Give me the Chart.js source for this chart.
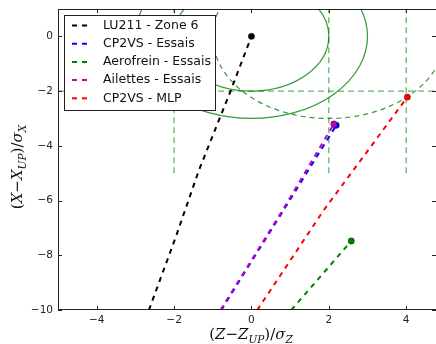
<!DOCTYPE html>
<html>
<head>
<meta charset="utf-8">
<script src="https://cdn.jsdelivr.net/npm/chart.js@4"></script>
<style>
  html, body { margin: 0; padding: 0; background: #fff; }
  #wrap { width: 436px; height: 344px; position: relative; }
</style>
</head>
<body>
<div id="wrap"><canvas id="grafico" width="436" height="344"></canvas></div>
<script>
// series
const nomes = ['LU211 - Zone 6', 'CP2VS - Essais', 'Aerofrein - Essais', 'Ailettes - Essais', 'CP2VS - MLP'];
const cores = ['#000000', '#0000ff', '#008000', '#bf00bf', '#ff0000'];

const lu211X = [-2.65, -1.96, -1.36, -0.54, 0];
const lu211Y = [-10, -7.35, -4.9, -2, 0];
const cp2vsEssaisX = [-0.78, 0.82, 2.19];
const cp2vsEssaisY = [-10, -6.37, -3.25];
const aerofreinX = [1.03, 2.58];
const aerofreinY = [-10, -7.48];
const ailettesX = [-0.8, 0.8, 2.13];
const ailettesY = [-10, -6.37, -3.2];
const mlpX = [0.15, 1.86, 4.03];
const mlpY = [-10, -6.37, -2.22];

// reference limits
const limitesX = [-2, 2, 4];
const limitesYVert = [-5, 1.2];
const limiteH = -2;
const circCentro = [0, 0];
const circRaios = [2, 3];
const circTracCentro = [2, 0];
const circTracRaio = 3;

// axes
const xTicks = [-4, -2, 0, 2, 4];
const yTicks = [0, -2, -4, -6, -8, -10];
const xMin = -5, xMax = 4.77, yMin = -10, yMax = 1;

const seriesX = [lu211X, cp2vsEssaisX, aerofreinX, ailettesX, mlpX];
const seriesY = [lu211Y, cp2vsEssaisY, aerofreinY, ailettesY, mlpY];

function pontos(xs, ys) {
  return xs.map((x, i) => ({ x: x, y: ys[i] }));
}

const datasets = [];
// green reference lines
limitesX.forEach(x => {
  datasets.push({
    data: pontos([x, x], limitesYVert),
    showLine: true, borderColor: 'rgba(0,128,0,0.6)', borderWidth: 1.3,
    borderDash: [6, 4], pointRadius: 0, order: 20
  });
});
datasets.push({
  data: pontos([xMin, xMax], [limiteH, limiteH]),
  showLine: true, borderColor: 'rgba(0,128,0,0.6)', borderWidth: 1.3,
  borderDash: [6, 4], pointRadius: 0, order: 20
});
// main series, drawn in matplotlib order (last on top)
nomes.forEach((nome, i) => {
  const n = seriesX[i].length;
  datasets.push({
    label: nome,
    data: pontos(seriesX[i], seriesY[i]),
    showLine: true,
    borderColor: cores[i],
    backgroundColor: cores[i],
    borderWidth: 2,
    borderDash: [5, 5],
    pointRadius: ctx => ctx.dataIndex === n - 1 ? 3.2 : 0,
    pointBorderColor: 'rgba(0,0,0,0.5)',
    pointBorderWidth: 0.6,
    pointBackgroundColor: cores[i],
    order: 10 - i
  });
});

function menos(v) {
  return v < 0 ? '\u2212' + Math.abs(v) : String(v);
}

// draws circles, frame, inward ticks, legend and axis titles
const extras = {
  id: 'extras',
  beforeDatasetsDraw(chart) {
    const { ctx, chartArea: a, scales: { x, y } } = chart;
    ctx.save();
    ctx.beginPath();
    ctx.rect(a.left, a.top, a.right - a.left, a.bottom - a.top);
    ctx.clip();
    ctx.strokeStyle = 'rgba(0,128,0,0.8)';
    ctx.lineWidth = 1.2;
    const cx = x.getPixelForValue(circCentro[0]);
    const cy = y.getPixelForValue(circCentro[1]);
    circRaios.forEach(r => {
      const rx = x.getPixelForValue(circCentro[0] + r) - cx;
      const ry = y.getPixelForValue(circCentro[1] - r) - cy;
      ctx.beginPath();
      ctx.ellipse(cx, cy, rx, ry, 0, 0, Math.PI * 2);
      ctx.stroke();
    });
    const tx = x.getPixelForValue(circTracCentro[0]);
    const ty = y.getPixelForValue(circTracCentro[1]);
    const trx = x.getPixelForValue(circTracCentro[0] + circTracRaio) - tx;
    const try_ = y.getPixelForValue(circTracCentro[1] - circTracRaio) - ty;
    ctx.setLineDash([5, 4]);
    ctx.beginPath();
    ctx.ellipse(tx, ty, trx, try_, 0, 0, Math.PI * 2);
    ctx.stroke();
    ctx.restore();
  },
  afterDraw(chart) {
    const { ctx, chartArea: a, scales: { x, y } } = chart;
    ctx.save();
    // frame
    ctx.strokeStyle = '#222';
    ctx.lineWidth = 1;
    ctx.strokeRect(a.left + 0.5, a.top + 0.5, a.right - a.left, a.bottom - a.top - 1);
    // inward ticks on all sides
    ctx.beginPath();
    xTicks.forEach(v => {
      const px = Math.round(x.getPixelForValue(v)) + 0.5;
      ctx.moveTo(px, a.bottom); ctx.lineTo(px, a.bottom - 4);
      ctx.moveTo(px, a.top); ctx.lineTo(px, a.top + 4);
    });
    yTicks.forEach(v => {
      const py = Math.round(y.getPixelForValue(v)) + 0.5;
      ctx.moveTo(a.left, py); ctx.lineTo(a.left + 4, py);
      ctx.moveTo(a.right, py); ctx.lineTo(a.right - 4, py);
    });
    ctx.stroke();

    // legend
    const lx = 64.5, ly = 15.5, lw = 151, lh = 95;
    ctx.fillStyle = '#fff';
    ctx.fillRect(lx, ly, lw, lh);
    ctx.strokeStyle = '#222';
    ctx.strokeRect(lx, ly, lw, lh);
    ctx.font = '12.5px "DejaVu Sans"';
    ctx.textBaseline = 'middle';
    ctx.textAlign = 'left';
    nomes.forEach((nome, i) => {
      const yy = 25.5 + i * 18.2;
      ctx.strokeStyle = cores[i];
      ctx.lineWidth = 2;
      ctx.setLineDash([5, 5]);
      ctx.beginPath();
      ctx.moveTo(72, yy); ctx.lineTo(88, yy);
      ctx.stroke();
      ctx.setLineDash([]);
      ctx.fillStyle = '#111';
      ctx.fillText(nome, 103, yy);
    });

    // axis titles (math style)
    desenhaTitulo(ctx, [['(', 0], ['Z', 0], ['\u2212', 0], ['Z', 0], ['UP', 1], [')/', 0], ['\u03c3', 0], ['Z', 1]],
      251, 339, 0);
    desenhaTitulo(ctx, [['(', 0], ['X', 0], ['\u2212', 0], ['X', 0], ['UP', 1], [')/', 0], ['\u03c3', 0], ['X', 1]],
      22, 167, -Math.PI / 2);
    ctx.restore();
  }
};

function desenhaTitulo(ctx, partes, cx, cy, ang) {
  const fonteN = 'italic 15px "DejaVu Serif"';
  const fonteS = 'italic 10.5px "DejaVu Serif"';
  const fonteR = '15px "DejaVu Serif"';
  const estilo = p => p[1] ? fonteS : (/[()\/\u2212]/.test(p[0]) ? fonteR : fonteN);
  let total = 0;
  partes.forEach(p => { ctx.font = estilo(p); total += ctx.measureText(p[0]).width; });
  ctx.save();
  ctx.translate(cx, cy);
  ctx.rotate(ang);
  ctx.fillStyle = '#111';
  ctx.textBaseline = 'alphabetic';
  ctx.textAlign = 'left';
  let px = -total / 2;
  partes.forEach(p => {
    ctx.font = estilo(p);
    ctx.fillText(p[0], px, p[1] ? 4 : 0);
    px += ctx.measureText(p[0]).width;
  });
  ctx.restore();
}

new Chart(document.getElementById('grafico'), {
  type: 'scatter',
  data: { datasets: datasets },
  options: {
    responsive: false,
    animation: false,
    layout: { autoPadding: false, padding: { top: 9, right: 0, left: 0, bottom: 0 } },
    plugins: { legend: { display: false }, tooltip: { enabled: false } },
    scales: {
      x: {
        type: 'linear', min: xMin, max: xMax,
        grid: { display: false, drawTicks: false },
        border: { display: false },
        afterBuildTicks: s => { s.ticks = xTicks.map(v => ({ value: v })); },
        afterFit: s => { s.height = 34; s.paddingLeft = 0; s.paddingRight = 0; },
        ticks: { color: '#222', font: { family: 'DejaVu Sans', size: 10.5 }, padding: 4, callback: menos }
      },
      y: {
        type: 'linear', min: yMin, max: yMax,
        grid: { display: false, drawTicks: false },
        border: { display: false },
        afterBuildTicks: s => { s.ticks = yTicks.map(v => ({ value: v })); },
        afterFit: s => { s.width = 58; s.paddingTop = 0; s.paddingBottom = 0; },
        ticks: { color: '#222', font: { family: 'DejaVu Sans', size: 10.5 }, padding: 5, callback: menos }
      }
    }
  },
  plugins: [extras]
});
</script>
</body>
</html>
